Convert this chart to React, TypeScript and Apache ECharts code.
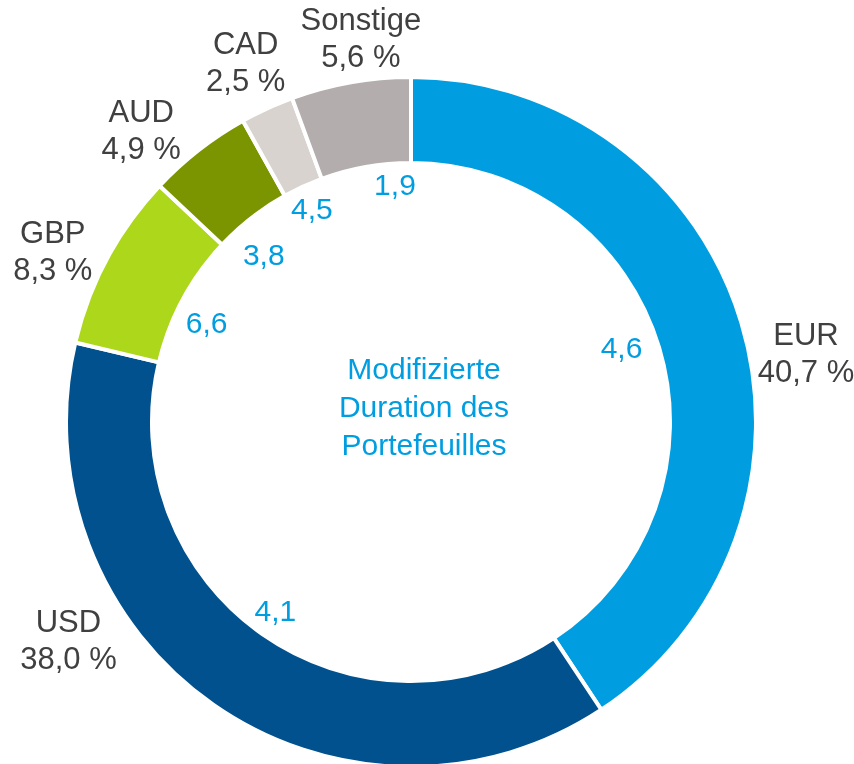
import React, { useEffect, useRef } from "react";
import * as echarts from "echarts";

const categories = ["EUR", "USD", "GBP", "AUD", "CAD", "Sonstige"];
const shares = [40.7, 38.0, 8.3, 4.9, 2.5, 5.6];
const durations = [4.6, 4.1, 6.6, 3.8, 4.5, 1.9];
const colors = ["#009ee0", "#00518e", "#acd71b", "#7a9500", "#d9d3cf", "#b3aead"];
const centerLines = ["Modifizierte", "Duration des", "Portefeuilles"];

// manual label nudges (like the hand-placed labels of the original)
const outerNudge = [
  [11, 46],
  [-113, -111],
  [-5, 19],
  [-23, 24],
  [2, 4],
  [20, 11],
];
const innerNudge = [
  [-3, -10],
  [-8, 6],
  [-8, 6],
  [-10, 8],
  [-6, -11],
  [23, -18],
];

const fmt = (v: number) => v.toFixed(1).replace(".", ",");
const FONT = "'Liberation Sans', Arial, sans-serif";

export default function App() {
  const ref = useRef<HTMLDivElement>(null);
  useEffect(() => {
    if (!ref.current) return;
    const chart = echarts.init(ref.current, undefined, { renderer: "svg" });
    const center = [411, 422];
    const transparentData = categories.map((c, i) => ({
      name: c,
      value: shares[i],
      itemStyle: { color: "rgba(0,0,0,0)" },
    }));
    chart.setOption({
      animation: false,
      series: [
        {
          type: "pie",
          center,
          radius: [259, 345],
          startAngle: 90,
          clockwise: true,
          avoidLabelOverlap: false,
          silent: true,
          label: { show: false },
          labelLine: { show: false },
          itemStyle: { borderColor: "#ffffff", borderWidth: 4 },
          data: categories.map((c, i) => ({
            name: c,
            value: shares[i],
            itemStyle: { color: colors[i] },
          })),
        },
        {
          type: "pie",
          center,
          radius: [210, 230],
          startAngle: 90,
          clockwise: true,
          avoidLabelOverlap: false,
          silent: true,
          labelLine: { show: false },
          label: {
            show: true,
            position: "inside",
            fontFamily: FONT,
            fontSize: 30,
            color: "#009ee0",
            formatter: (p: any) => fmt(durations[p.dataIndex]),
          },
          labelLayout: (p: any) => ({
            dx: innerNudge[p.dataIndex][0],
            dy: innerNudge[p.dataIndex][1],
          }),
          data: transparentData,
        },
        {
          type: "pie",
          center,
          radius: [388, 408],
          startAngle: 90,
          clockwise: true,
          avoidLabelOverlap: false,
          silent: true,
          labelLine: { show: false },
          label: {
            show: true,
            position: "inside",
            fontFamily: FONT,
            fontSize: 31,
            lineHeight: 37,
            align: "center",
            color: "#404040",
            formatter: (p: any) => `${p.name}\n${fmt(shares[p.dataIndex])} %`,
          },
          labelLayout: (p: any) => ({
            dx: outerNudge[p.dataIndex][0],
            dy: outerNudge[p.dataIndex][1],
          }),
          data: transparentData,
        },
      ],
      graphic: [
        {
          type: "text",
          x: 424,
          y: 406,
          silent: true,
          style: {
            text: centerLines.join("\n"),
            font: `30px ${FONT}`,
            lineHeight: 38,
            fill: "#009ee0",
            align: "center",
            verticalAlign: "middle",
          },
        },
      ],
    });
    return () => chart.dispose();
  }, []);
  return (
    <div
      ref={ref}
      style={{ position: "fixed", left: 0, top: 0, width: 854, height: 764 }}
    />
  );
}
